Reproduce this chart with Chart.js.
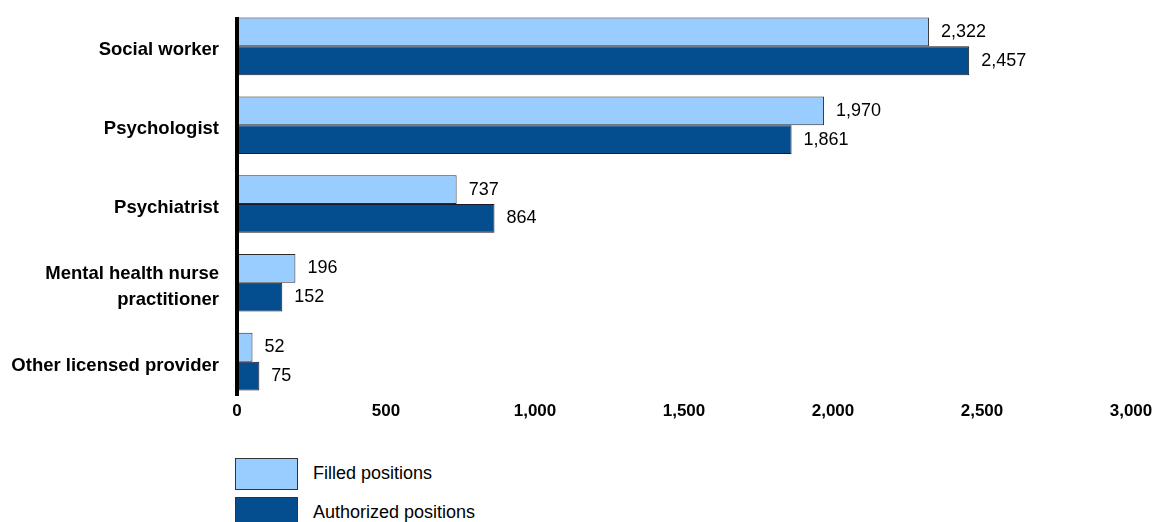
<!DOCTYPE html>
<html lang="en">
<head>
<meta charset="UTF-8">
<title>Positions</title>
<script src="https://cdn.jsdelivr.net/npm/chart.js"></script>
<style>
  body { margin: 0; background: #fff; font-family: "Liberation Sans", Arial, sans-serif; }
  .wrap { position: relative; width: 1154px; height: 522px; overflow: hidden; }
  #chart { position: absolute; left: 0; top: -24px; }
  #legend { position: absolute; left: 235px; top: 454px; }
  .item { display: flex; align-items: center; height: 39px; font-size: 18px; color: #000; }
  .box { width: 63px; height: 32px; box-sizing: border-box; border: 1px solid #333; margin-right: 15px; }
</style>
</head>
<body>
<div class="wrap">
  <canvas id="chart" width="1154" height="456" style="width:1154px;height:456px"></canvas>
  <div id="legend"></div>
</div>
<script>
// data
const categories = ['Social worker', 'Psychologist', 'Psychiatrist', ['Mental health nurse', 'practitioner'], 'Other licensed provider'];
const filled = [2322, 1970, 737, 196, 52];
const authorized = [2457, 1861, 864, 152, 75];
const seriesNames = ['Filled positions', 'Authorized positions'];
const xTicks = [0, 500, 1000, 1500, 2000, 2500, 3000];

const colors = ['#99ccff', '#044e8f'];
const font = '"Liberation Sans", Arial, sans-serif';

// write the value to the right of each bar
const valueLabels = {
  id: 'valueLabels',
  afterDatasetsDraw(chart) {
    const ctx = chart.ctx;
    ctx.save();
    ctx.font = '18px ' + font;
    ctx.fillStyle = '#000';
    ctx.textBaseline = 'middle';
    chart.data.datasets.forEach((ds, i) => {
      chart.getDatasetMeta(i).data.forEach((bar, j) => {
        ctx.fillText(ds.data[j].toLocaleString('en-US'), bar.x + 12, bar.y);
      });
    });
    ctx.restore();
  }
};

// thick axis line, a bit shorter than the plot area like the original
const axisLine = {
  id: 'axisLine',
  afterDatasetsDraw(chart) {
    const { ctx, chartArea } = chart;
    ctx.save();
    ctx.strokeStyle = '#000';
    ctx.lineWidth = 4;
    ctx.beginPath();
    ctx.moveTo(chartArea.left, chartArea.top + 10);
    ctx.lineTo(chartArea.left, chartArea.bottom - 5);
    ctx.stroke();
    ctx.restore();
  }
};

const chart = new Chart(document.getElementById('chart'), {
  type: 'bar',
  data: {
    labels: categories,
    datasets: [
      { label: seriesNames[0], data: filled, backgroundColor: colors[0], borderColor: '#2b2b2b', borderWidth: 1 },
      { label: seriesNames[1], data: authorized, backgroundColor: colors[1], borderColor: '#1a1a2a', borderWidth: 1 }
    ]
  },
  options: {
    indexAxis: 'y',
    responsive: false,
    animation: false,
    layout: { padding: { top: 4, right: 23, left: 0, bottom: 0 } },
    plugins: { legend: { display: false }, tooltip: { enabled: false } },
    datasets: { bar: { categoryPercentage: 0.73, barPercentage: 1 } },
    scales: {
      x: {
        min: 0, max: 3000,
        afterBuildTicks: s => { s.ticks = xTicks.map(v => ({ value: v })); },
        grid: { display: false, drawTicks: false },
        border: { display: false },
        ticks: {
          color: '#000', padding: 0, maxRotation: 0,
          font: { family: font, size: 17, weight: 'bold' },
          callback: v => v.toLocaleString('en-US')
        }
      },
      y: {
        afterFit: s => { s.width = 237; },
        grid: { display: false, drawTicks: false },
        border: { display: false },
        ticks: {
          color: '#000', padding: 18, labelOffset: 4,
          font: { family: font, size: 18.5, weight: 'bold', lineHeight: 1.4 }
        }
      }
    }
  },
  plugins: [valueLabels, axisLine]
});

// legend stacked under the axis
const legend = document.getElementById('legend');
chart.data.datasets.forEach(ds => {
  const row = document.createElement('div');
  row.className = 'item';
  const box = document.createElement('span');
  box.className = 'box';
  box.style.background = ds.backgroundColor;
  row.appendChild(box);
  row.appendChild(document.createTextNode(ds.label));
  legend.appendChild(row);
});
</script>
</body>
</html>
